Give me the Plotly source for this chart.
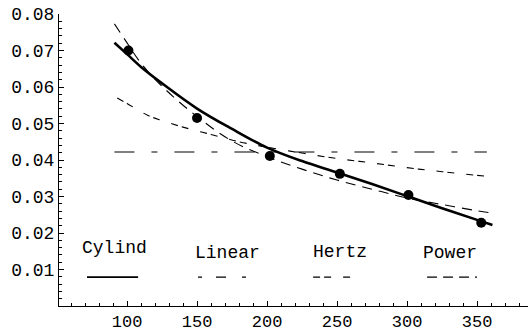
import plotly.graph_objects as go

# ---- data ----
pts_x = [101, 150, 202, 252, 301, 353]
pts_y = [0.0700, 0.0515, 0.0411, 0.0362, 0.0304, 0.0228]

cyl_x = [91, 100, 110, 125, 150, 175, 200, 225, 250, 275, 300, 325, 350, 361]
cyl_y = [0.0721, 0.0690, 0.0655, 0.0610, 0.0541, 0.0485, 0.0434, 0.0397,
         0.0366, 0.0334, 0.0301, 0.0268, 0.0236, 0.0222]

lin_x = [91, 357]
lin_y = [0.0422, 0.0422]

hertz_x = [93, 100, 115, 125, 140, 160, 180, 200, 225, 250, 275, 300, 325, 355]
hertz_y = [0.0570, 0.0555, 0.0522, 0.0508, 0.0490, 0.0470, 0.0450, 0.0435,
           0.0419, 0.0404, 0.0392, 0.0379, 0.0368, 0.0356]

pow_x = [91, 100, 110, 125, 150, 175, 200, 225, 250, 275, 300, 325, 350, 360]
pow_y = [0.0773, 0.0721, 0.0665, 0.0602, 0.0519, 0.0452, 0.0409, 0.0375,
         0.0345, 0.0320, 0.0296, 0.0278, 0.0261, 0.0255]

legend_names = ["Cylind", "Linear", "Hertz", "Power"]
legend_text_x = [90.7, 171.4, 251.8, 330.7]
legend_text_y = [0.0159, 0.0146, 0.0148, 0.0146]
legend_line_x0 = [71.4, 150.7, 232.9, 314.3]
legend_line_x1 = [107.9, 187.9, 261.4, 350.0]
legend_line_y = 0.0079

x_ticks = [100, 150, 200, 250, 300, 350]
y_ticks = [0.01, 0.02, 0.03, 0.04, 0.05, 0.06, 0.07, 0.08]

FONT = "Liberation Mono"

styles = {
    "Cylind": dict(color="black", width=2.6, dash="solid"),
    "Linear": dict(color="black", width=1.1, dash="20px,17px,6px,17px"),
    "Hertz": dict(color="black", width=1.1, dash="7px,4px,7px,12px"),
    "Power": dict(color="black", width=1.1, dash="10px,7px"),
}
legend_dash = {
    "Cylind": "solid",
    "Linear": "4px,14px,10px,16px",
    "Hertz": "7px,4px,7px,12px",
    "Power": "10px,6px",
}

fig = go.Figure()
series = [("Hertz", hertz_x, hertz_y), ("Linear", lin_x, lin_y),
          ("Power", pow_x, pow_y), ("Cylind", cyl_x, cyl_y)]
for name, xs, ys in series:
    fig.add_trace(go.Scatter(x=xs, y=ys, mode="lines", line=styles[name],
                             line_shape="spline", showlegend=False))

fig.add_trace(go.Scatter(x=pts_x, y=pts_y, mode="markers",
                         marker=dict(color="black", size=10), showlegend=False))

for i, name in enumerate(legend_names):
    st = dict(styles[name])
    st["dash"] = legend_dash[name]
    st["width"] = 1.6 if name == "Cylind" else 1.1
    fig.add_trace(go.Scatter(x=[legend_line_x0[i], legend_line_x1[i]],
                             y=[legend_line_y, legend_line_y], mode="lines",
                             line=st, showlegend=False))
    fig.add_annotation(x=legend_text_x[i], y=legend_text_y[i], xref="x", yref="y",
                       text=name, showarrow=False,
                       font=dict(family=FONT, size=18, color="black"))

fig.update_layout(
    width=528, height=332,
    margin=dict(l=59, r=0, t=14, b=26, autoexpand=False),
    paper_bgcolor="white", plot_bgcolor="white",
    font=dict(family=FONT, size=18, color="black"),
)
fig.update_xaxes(range=[51.4, 386.4], tickvals=x_ticks, ticktext=[str(v) for v in x_ticks],
                 automargin=False, tickfont=dict(size=17),
                 showgrid=False, zeroline=False, showline=True, linecolor="black",
                 linewidth=1, ticks="inside", ticklen=5, tickcolor="black",
                 minor=dict(ticks="inside", ticklen=3, dtick=10, tick0=50, tickcolor="black"))
fig.update_yaxes(range=[0, 0.08], tickvals=y_ticks, ticktext=[f"{v:.2f}" for v in y_ticks],
                 automargin=False,
                 showgrid=False, zeroline=False, showline=True, linecolor="black",
                 linewidth=1, ticks="inside", ticklen=5, tickcolor="black",
                 minor=dict(ticks="inside", ticklen=3, dtick=0.002, tick0=0, tickcolor="black"))

fig.write_html("out.html", config={"displayModeBar": False},
               post_script="document.body.style.margin='0';document.body.style.overflow='hidden';")
